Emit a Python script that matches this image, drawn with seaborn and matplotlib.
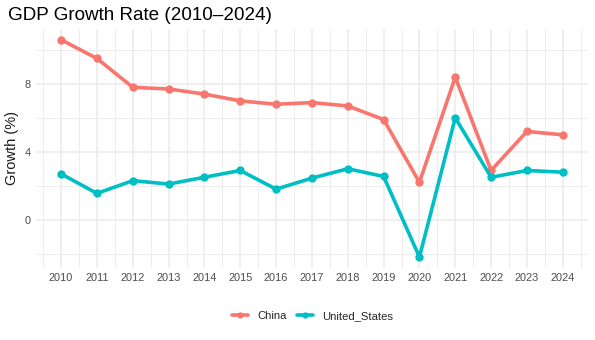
import matplotlib
matplotlib.use("Agg")
import matplotlib.pyplot as plt
import seaborn as sns
import pandas as pd
from matplotlib.ticker import MultipleLocator

years = list(range(2010, 2025))
china = [10.6, 9.5, 7.8, 7.7, 7.4, 7.0, 6.8, 6.9, 6.7, 5.9, 2.2, 8.4, 2.9, 5.2, 5.0]
united_states = [2.7, 1.55, 2.3, 2.1, 2.5, 2.9, 1.8, 2.45, 3.0, 2.55, -2.2, 6.0, 2.5, 2.9, 2.8]
countries = ["China", "United_States"]
palette = {"China": "#F8766D", "United_States": "#00BFC4"}

df = pd.DataFrame({
    "Year": years * 2,
    "Growth": china + united_states,
    "Country": [countries[0]] * len(years) + [countries[1]] * len(years),
})

sns.set_theme(style="white")
plt.rcParams["font.family"] = ["Liberation Sans", "DejaVu Sans"]

fig = plt.figure(figsize=(5.95, 3.4), dpi=100)
ax = fig.add_axes([0.0605, 0.212, 0.9275, 0.703])

sns.lineplot(data=df, x="Year", y="Growth", hue="Country", palette=palette,
             hue_order=countries, marker="o", markersize=6, markeredgewidth=0,
             linewidth=2.6, ax=ax, legend=False)

ax.set_xlim(2009.3, 2024.7)
ax.set_ylim(-2.84, 11.24)
ax.set_xticks(years)
ax.set_xticklabels([str(y) for y in years])
ax.xaxis.set_minor_locator(MultipleLocator(0.5))
ax.set_yticks([0, 4, 8])
ax.yaxis.set_minor_locator(MultipleLocator(2))

ax.grid(which="major", color="#EBEBEB", linewidth=1.1)
ax.grid(which="minor", color="#EDEDED", linewidth=0.7)
ax.set_axisbelow(True)
for s in ax.spines.values():
    s.set_visible(False)
ax.tick_params(axis="both", which="both", length=0, labelsize=7.9,
               labelcolor="#4D4D4D", pad=4)

ax.set_xlabel("")
ax.set_ylabel("Growth (%)", fontsize=10.5, color="#1A1A1A", labelpad=4)
fig.text(0.013, 0.953, "GDP Growth Rate (2010–2024)", fontsize=13.6,
         color="#000000", ha="left", va="center")

handles = [plt.Line2D([], [], color=palette[c], marker="o", markersize=4.5,
                      markeredgewidth=0, linewidth=2.6) for c in countries]
fig.legend(handles, countries, loc="center", bbox_to_anchor=(0.525, 0.07),
           ncol=2, frameon=False, fontsize=8.1, handlelength=1.45,
           columnspacing=0.9, handletextpad=0.8)

fig.savefig("out.png", dpi=100, facecolor="white")
